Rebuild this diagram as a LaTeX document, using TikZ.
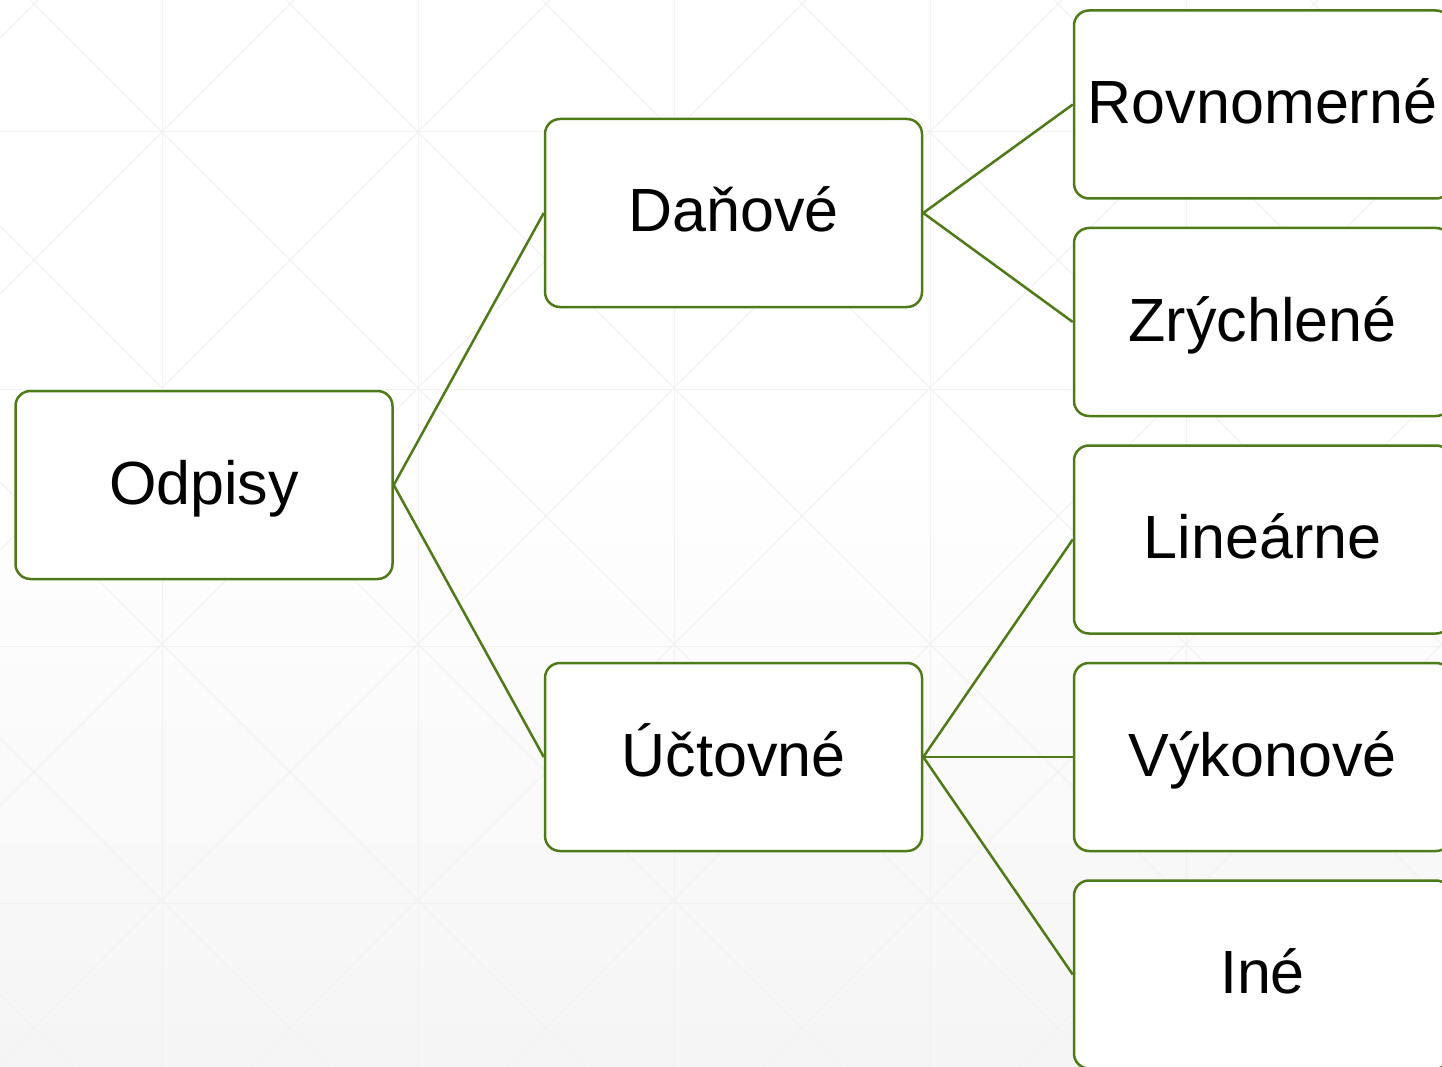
\documentclass[tikz,border=0pt]{standalone}
\usepackage{fontspec}
\setmainfont{Liberation Sans}
\definecolor{edgegreen}{RGB}{79,122,24}
\definecolor{gridgray}{RGB}{241,241,241}
\tikzset{
  box/.style={draw=edgegreen, line width=2.5pt, fill=white, rounded corners=15pt,
    minimum width=377pt, minimum height=188pt, inner sep=0pt,
    font=\fontsize{61}{61}\selectfont, text height=44pt, text depth=6pt},
  conn/.style={draw=edgegreen, line width=2.5pt},
  gridline/.style={draw=gridgray, line width=1pt}
}
\begin{document}
\begin{tikzpicture}[x=1pt,y=-1pt]
\useasboundingbox (0,0) rectangle (1442,1067);
\clip (0,0) rectangle (1442,1067);
\fill[white] (0,0) rectangle (1442,1067);
\shade[top color=white, bottom color=black!4] (0,450) rectangle (1442,1067);
% background pattern
\foreach \k in {-6,...,10} {
  \draw[gridline] ({30+256*\k-200},-200) -- ({30+256*\k+1300},1300);
  \draw[gridline] ({294+256*\k+200},-200) -- ({294+256*\k-1300},1300);
}
\foreach \x in {162,418,674,930,1186,1442} \draw[gridline] (\x,0) -- (\x,1067);
\foreach \y in {132,389,646,903} \draw[gridline] (0,\y) -- (1442,\y);
% nodes
\node[box] (odpisy) at (204,485) {Odpisy};
\node[box] (danove) at (733.5,213) {Daňové};
\node[box] (uctovne) at (733.5,757) {Účtovné};
\node[box] (rovno) at (1262.5,104.5) {Rovnomerné};
\node[box] (zrych) at (1262.5,322) {Zrýchlené};
\node[box] (linear) at (1262.5,539.5) {Lineárne};
\node[box] (vykon) at (1262.5,757) {Výkonové};
\node[box] (ine) at (1262.5,974.5) {Iné};
% connectors
\draw[conn] (odpisy.east) -- (danove.west);
\draw[conn] (odpisy.east) -- (uctovne.west);
\draw[conn] (danove.east) -- (rovno.west);
\draw[conn] (danove.east) -- (zrych.west);
\draw[conn] (uctovne.east) -- (linear.west);
\draw[conn] (uctovne.east) -- (vykon.west);
\draw[conn] (uctovne.east) -- (ine.west);
\end{tikzpicture}
\end{document}
